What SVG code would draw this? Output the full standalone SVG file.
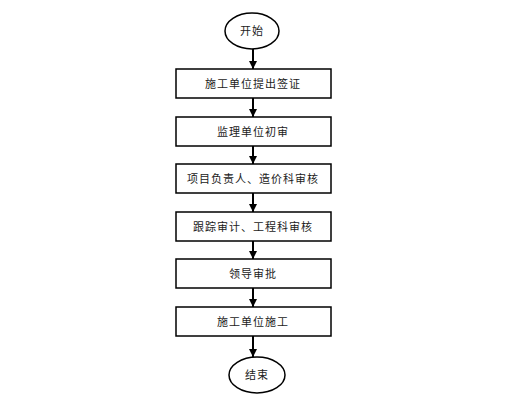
<svg xmlns="http://www.w3.org/2000/svg" width="507" height="400" viewBox="0 0 507 400">
<defs>
<style>
.box{fill:#fff;stroke:#000;stroke-width:1.5}
.t{font-family:"Liberation Sans","Noto Sans CJK SC",sans-serif;font-size:11px;fill:#222;text-anchor:middle;dominant-baseline:central;letter-spacing:1px}
.c{stroke:#000;stroke-width:2;fill:none}
</style>
<marker id="ah" viewBox="0 0 10 10" refX="10" refY="5" markerWidth="4" markerHeight="4.5" orient="auto" markerUnits="strokeWidth">
<path d="M0,0 L10,5 L0,10 z" fill="#000"/>
</marker>
</defs>
<rect width="507" height="400" fill="#fff"/>
<g id="connectors">
<line class="c" x1="253" y1="49" x2="253" y2="69" marker-end="url(#ah)"/>
<line class="c" x1="253" y1="98" x2="253" y2="117" marker-end="url(#ah)"/>
<line class="c" x1="253" y1="146" x2="253" y2="164" marker-end="url(#ah)"/>
<line class="c" x1="253" y1="193" x2="253" y2="212" marker-end="url(#ah)"/>
<line class="c" x1="253" y1="241" x2="253" y2="259" marker-end="url(#ah)"/>
<line class="c" x1="253" y1="288" x2="253" y2="307" marker-end="url(#ah)"/>
<line class="c" x1="253" y1="336" x2="253" y2="357" marker-end="url(#ah)"/>
</g>
<g id="start"><ellipse class="box" cx="252" cy="31" rx="27" ry="18"/><text class="t" x="252" y="31">开始</text></g>
<g id="n1"><rect class="box" x="176" y="69" width="155" height="29"/><text class="t" x="253" y="83.5">施工单位提出签证</text></g>
<g id="n2"><rect class="box" x="176" y="117" width="155" height="29"/><text class="t" x="253" y="131.5">监理单位初审</text></g>
<g id="n3"><rect class="box" x="176" y="164" width="155" height="29"/><text class="t" x="253" y="178.5">项目负责人、造价科审核</text></g>
<g id="n4"><rect class="box" x="176" y="212" width="155" height="29"/><text class="t" x="253" y="226.5">跟踪审计、工程科审核</text></g>
<g id="n5"><rect class="box" x="176" y="259" width="155" height="29"/><text class="t" x="253" y="273.5">领导审批</text></g>
<g id="n6"><rect class="box" x="176" y="307" width="155" height="29"/><text class="t" x="253" y="321.5">施工单位施工</text></g>
<g id="end"><ellipse class="box" cx="257" cy="375" rx="28" ry="18"/><text class="t" x="257" y="375">结束</text></g>
</svg>
